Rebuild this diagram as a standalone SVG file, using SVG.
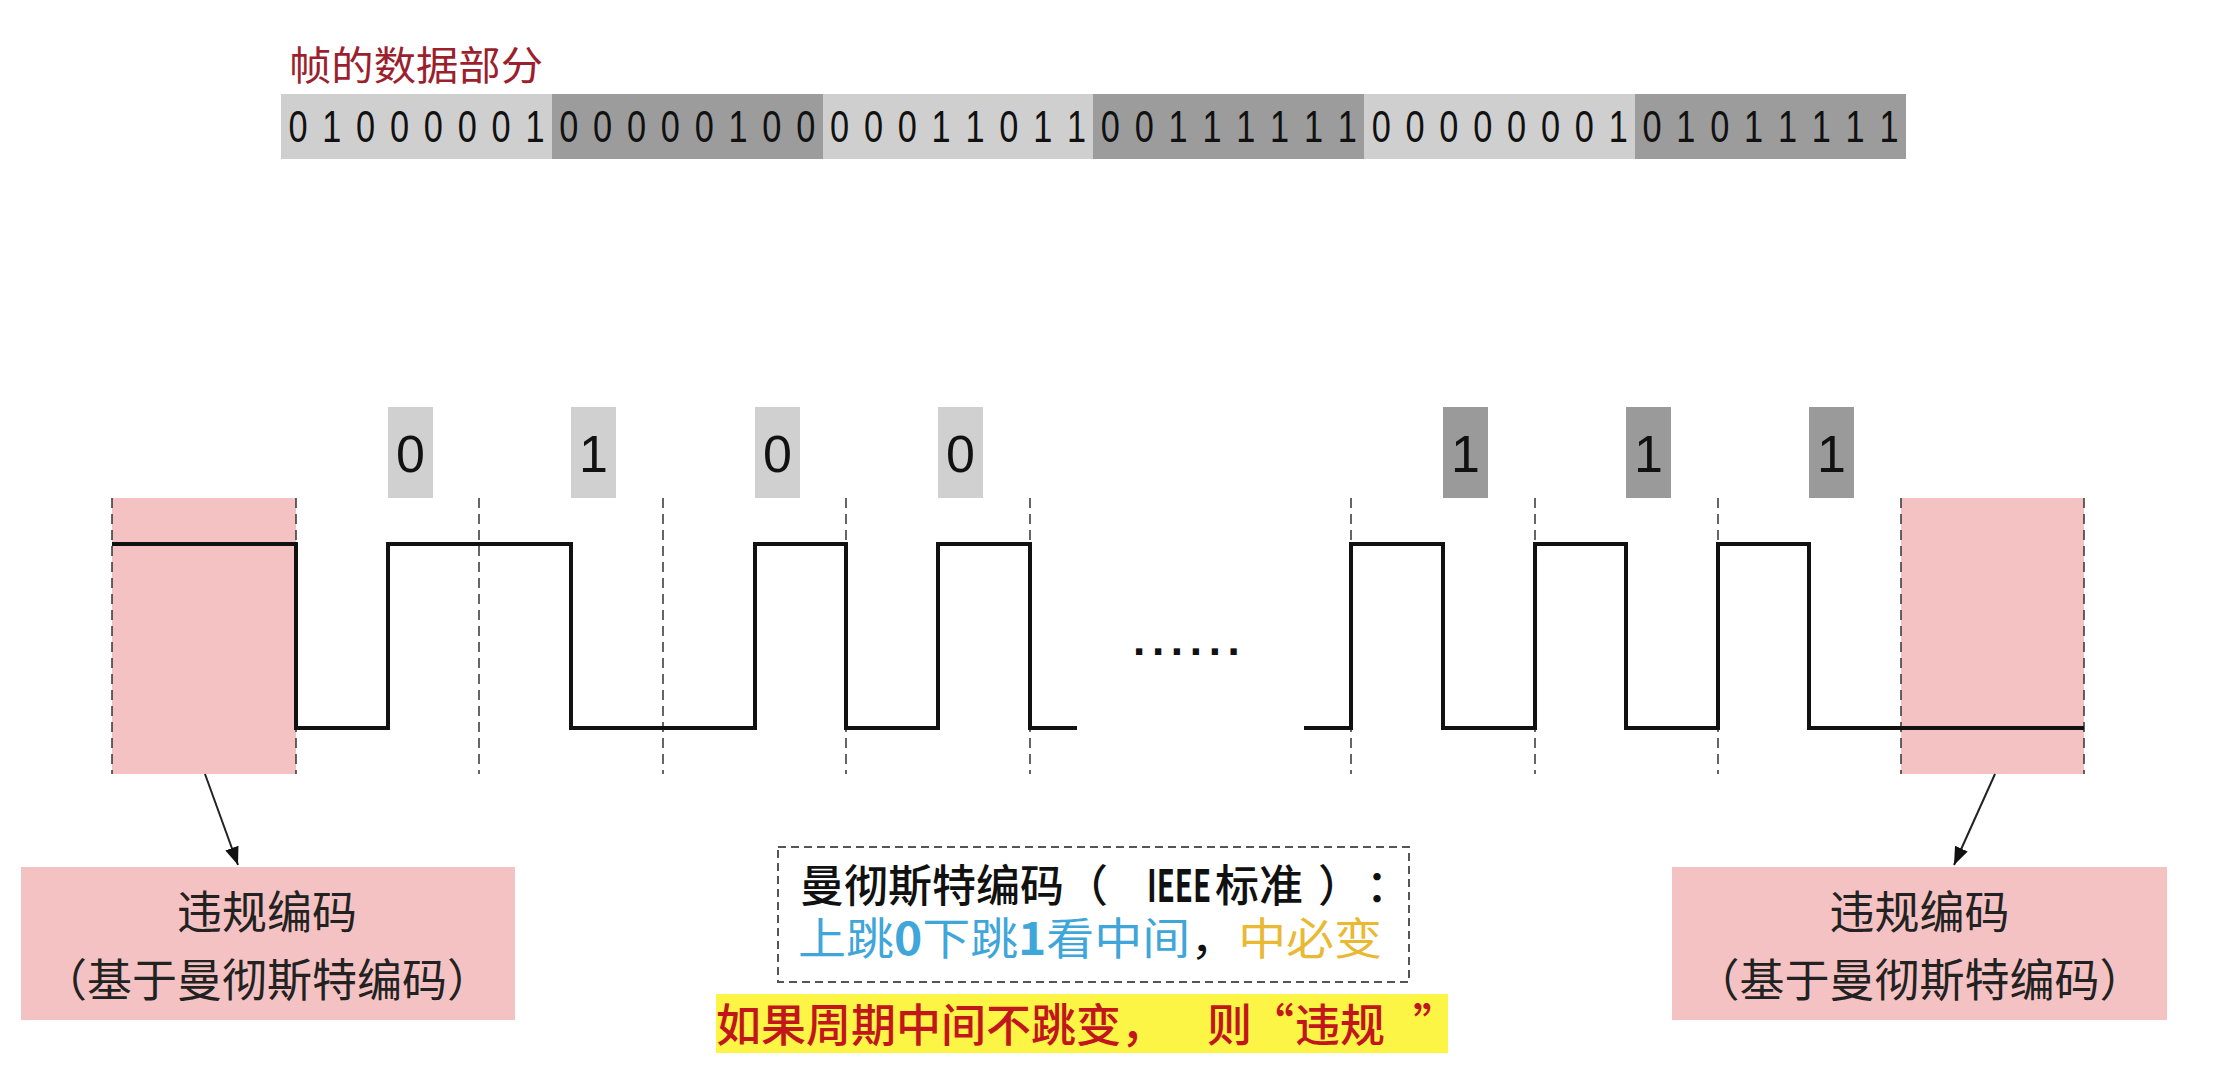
<svg xmlns="http://www.w3.org/2000/svg" width="2227" height="1079" viewBox="0 0 2227 1079">
<defs>
<style>
.cjk{font-family:'Noto Sans CJK SC','Noto Sans',sans-serif;}
.dig{font-family:'Liberation Sans',Arial,sans-serif;}
.dash{stroke:#333;stroke-width:1.5;stroke-dasharray:10 6;fill:none;}
.wave{stroke:#111;stroke-width:4;fill:none;stroke-linejoin:miter;}
.pink{fill:#f4c2c2;}
.lbl-l{fill:#d0d0d0;}
.lbl-d{fill:#9a9a9a;}
.bar-l{fill:#cfcfcf;}
.bar-d{fill:#9c9c9c;}
.conn{stroke:#222;stroke-width:2;fill:none;marker-end:url(#arrow);}
.boxtxt{font-size:45px;fill:#222;text-anchor:middle;}
.rule1{font-size:44px;font-weight:500;fill:#111;}
.rule1b{font-size:44px;font-weight:bold;fill:#111;}
.warn{font-size:45px;font-weight:500;fill:#c2161d;}
</style>
<marker id="arrow" markerUnits="userSpaceOnUse" markerWidth="20" markerHeight="14" refX="18" refY="7" orient="auto"><path d="M0,0 L18,7 L0,14 z" fill="#111"/></marker>
</defs>
<rect width="2227" height="1079" fill="#fff"/>

<g id="title">
<text class="cjk" x="289" y="80" font-size="40" fill="#9c1f2e" textLength="254" lengthAdjust="spacingAndGlyphs">帧的数据部分</text>
</g>

<g id="bit-bar">
<rect class="bar-l" x="281" y="94" width="271" height="65"/>
<rect class="bar-d" x="552" y="94" width="271" height="65"/>
<rect class="bar-l" x="823" y="94" width="270" height="65"/>
<rect class="bar-d" x="1093" y="94" width="271" height="65"/>
<rect class="bar-l" x="1364" y="94" width="271" height="65"/>
<rect class="bar-d" x="1635" y="94" width="271" height="65"/>
<text class="dig" font-size="44" fill="#111" text-anchor="middle" transform="scale(0.78 1)" y="142" x="382.0 425.4 468.8 512.2 555.6 599.0 642.4 685.8 729.2 772.6 816.0 859.4 902.8 946.2 989.6 1033.0 1076.4 1119.8 1163.2 1206.6 1250.0 1293.4 1336.8 1380.2 1423.6 1467.0 1510.4 1553.8 1597.2 1640.6 1684.0 1727.4 1770.8 1814.2 1857.6 1901.0 1944.4 1987.8 2031.2 2074.6 2118.0 2161.4 2204.8 2248.2 2291.6 2335.0 2378.4 2421.8">010000010000010000011011001111110000000101011111</text>
</g>

<g id="violation-region-left">
<rect class="pink" x="112" y="498" width="184" height="276"/>
</g>
<g id="violation-region-right">
<rect class="pink" x="1901" y="498" width="183" height="276"/>
</g>

<g id="bit-cells">
<line class="dash" x1="112" y1="498" x2="112" y2="774"/>
<line class="dash" x1="296" y1="498" x2="296" y2="774"/>
<line class="dash" x1="479" y1="498" x2="479" y2="774"/>
<line class="dash" x1="663" y1="498" x2="663" y2="774"/>
<line class="dash" x1="846" y1="498" x2="846" y2="774"/>
<line class="dash" x1="1030" y1="498" x2="1030" y2="774"/>
<line class="dash" x1="1351" y1="498" x2="1351" y2="774"/>
<line class="dash" x1="1535" y1="498" x2="1535" y2="774"/>
<line class="dash" x1="1718" y1="498" x2="1718" y2="774"/>
<line class="dash" x1="1901" y1="498" x2="1901" y2="774"/>
<line class="dash" x1="2084" y1="498" x2="2084" y2="774"/>
</g>

<g id="waveform">
<path class="wave" d="M112,544 H296 V728 H388 V544 H571 V728 H755 V544 H846 V728 H938 V544 H1030 V728 H1077"/>
<path class="wave" d="M1304,728 H1351 V544 H1443 V728 H1535 V544 H1626 V728 H1718 V544 H1809 V728 H2084"/>
<text class="dig" x="1133" y="655" font-size="44" font-weight="bold" fill="#111" letter-spacing="6.7">......</text>
</g>

<g id="bit-labels">
<rect class="lbl-l" x="388" y="407" width="45" height="91"/>
<rect class="lbl-l" x="571" y="407" width="45" height="91"/>
<rect class="lbl-l" x="755" y="407" width="45" height="91"/>
<rect class="lbl-l" x="938" y="407" width="45" height="91"/>
<rect class="lbl-d" x="1443" y="407" width="45" height="91"/>
<rect class="lbl-d" x="1626" y="407" width="45" height="91"/>
<rect class="lbl-d" x="1809" y="407" width="45" height="91"/>
<g class="dig" font-size="52" fill="#111" text-anchor="middle">
<text x="410.5" y="472">0</text>
<text x="593.5" y="472">1</text>
<text x="777.5" y="472">0</text>
<text x="960.5" y="472">0</text>
<text x="1465.5" y="472">1</text>
<text x="1648.5" y="472">1</text>
<text x="1831.5" y="472">1</text>
</g>
</g>

<g id="violation-note-left">
<rect class="pink" x="21" y="867" width="494" height="153"/>
<text class="cjk boxtxt" x="267" y="929">违规编码</text>
<text class="cjk boxtxt" x="267" y="997">（基于曼彻斯特编码）</text>
</g>

<g id="violation-note-right">
<rect class="pink" x="1672" y="867" width="495" height="153"/>
<text class="cjk boxtxt" x="1919.5" y="929">违规编码</text>
<text class="cjk boxtxt" x="1919.5" y="997">（基于曼彻斯特编码）</text>
</g>

<g id="manchester-rule">
<rect x="778" y="847" width="631" height="135" fill="#fff" stroke="#555" stroke-width="2" stroke-dasharray="8 5"/>
<text class="cjk rule1" x="800" y="902">曼彻斯特编码（</text>
<text class="cjk rule1b" x="1147" y="902" textLength="64" lengthAdjust="spacingAndGlyphs">IEEE</text>
<text class="cjk rule1" x="1215" y="902">标准</text>
<text class="cjk rule1" x="1318" y="902">）</text>
<text class="cjk rule1" x="1366" y="902">：</text>
<text class="cjk" x="798" y="955" font-size="44" textLength="584" lengthAdjust="spacingAndGlyphs"><tspan fill="#3fa6da">上跳<tspan font-weight="bold">0</tspan>下跳<tspan font-weight="bold">1</tspan>看中间</tspan><tspan fill="#111">，</tspan><tspan fill="#e9b934">中必变</tspan></text>
</g>

<g id="warning">
<rect x="716" y="994" width="732" height="59" fill="#fdf545"/>
<text class="cjk warn" x="716" y="1042">如果周期中间不跳变，</text>
<text class="cjk warn" x="1207" y="1042">则</text>
<text class="cjk warn" x="1249" y="1042">“</text>
<text class="cjk warn" x="1295" y="1042">违规</text>
<text class="cjk warn" x="1413" y="1042">”</text>
</g>

<g id="connectors">
<line class="conn" x1="205" y1="774" x2="238" y2="865"/>
<line class="conn" x1="1995" y1="774" x2="1954" y2="865"/>
</g>
</svg>
